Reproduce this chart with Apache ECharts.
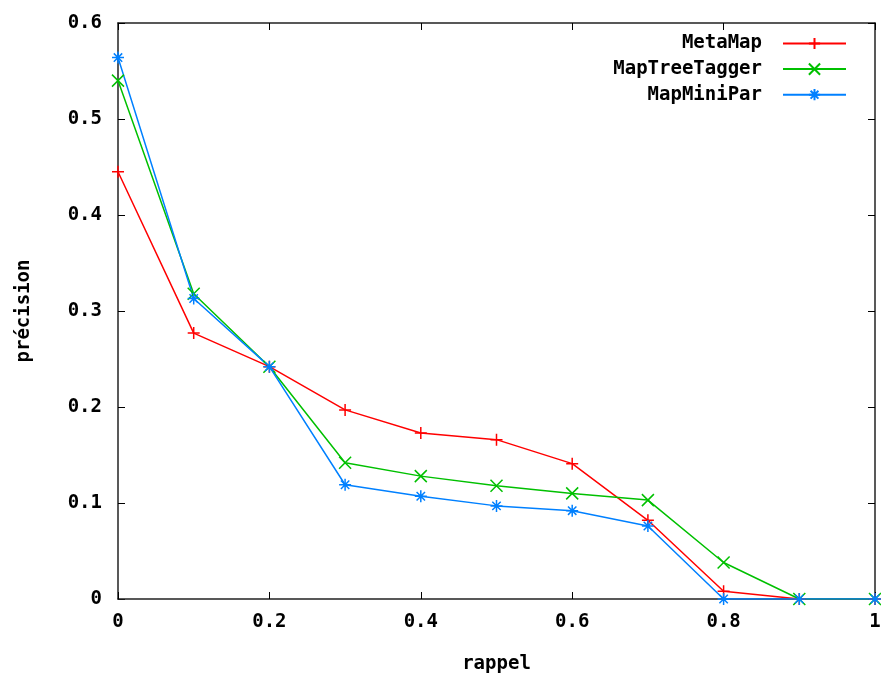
<!DOCTYPE html>
<html>
<head>
<meta charset="utf-8">
<script src="https://cdn.jsdelivr.net/npm/echarts@6/dist/echarts.min.js"></script>
<style>
html,body{margin:0;padding:0;background:#fff;}
#chart{width:881px;height:675px;}
</style>
</head>
<body>
<div id="chart"></div>
<script>
var rappel = [0, 0.1, 0.2, 0.3, 0.4, 0.5, 0.6, 0.7, 0.8, 0.9, 1.0];
var metaMap = [0.445, 0.277, 0.242, 0.197, 0.173, 0.166, 0.141, 0.082, 0.008, 0, 0];
var mapTreeTagger = [0.540, 0.318, 0.242, 0.142, 0.128, 0.118, 0.110, 0.103, 0.038, 0, 0];
var mapMiniPar = [0.564, 0.313, 0.242, 0.119, 0.107, 0.097, 0.092, 0.076, 0, 0, 0];
var seriesNames = ['MetaMap', 'MapTreeTagger', 'MapMiniPar'];
var xTicks = [0, 0.2, 0.4, 0.6, 0.8, 1];
var yTicks = [0, 0.1, 0.2, 0.3, 0.4, 0.5, 0.6];

function pairs(ys) { return rappel.map(function (x, i) { return [x, ys[i]]; }); }

var FONT = 'DejaVu Sans Mono';
var FS = 19;
var plusPath = 'path://M0,5L10,5M5,0L5,10';
var crossPath = 'path://M0,0L10,10M10,0L0,10';
var starPath = 'path://M0,5L10,5M5,0L5,10M1.5,1.5L8.5,8.5M8.5,1.5L1.5,8.5';
var colors = ['#ff0000', '#00c000', '#0080ff'];
var symbols = [plusPath, crossPath, starPath];
var datas = [metaMap, mapTreeTagger, mapMiniPar];

var series = seriesNames.map(function (n, i) {
  return {
    name: n, type: 'line', data: pairs(datas[i]),
    symbol: symbols[i], symbolSize: 12,
    lineStyle: { color: colors[i], width: 1.5 },
    itemStyle: { color: colors[i], borderColor: colors[i], borderWidth: 1.5 },
    animation: false
  };
});

var legends = seriesNames.map(function (n, i) {
  return {
    data: [n], right: 34, top: 34 + i * 25.6, orient: 'vertical', align: 'right',
    itemWidth: 63, itemHeight: 14, itemGap: 0, padding: 0,
    textStyle: { fontFamily: FONT, fontWeight: 'bold', fontSize: FS, color: '#000', padding: [0, 16, 0, 0] },
    selectedMode: false
  };
});

var tickStyle = { show: true, inside: true, length: 7, lineStyle: { color: '#000', width: 1 } };
var lineStyle = { show: true, onZero: false, lineStyle: { color: '#222', width: 1.5 } };
var labelStyle = { fontFamily: FONT, fontWeight: 'bold', fontSize: FS, color: '#000' };

var option = {
  backgroundColor: '#fff',
  animation: false,
  grid: { left: 118, right: 6, top: 23, bottom: 76, containLabel: false, outerBoundsMode: 'none' },
  legend: legends,
  xAxis: [
    { type: 'value', min: 0, max: 1, interval: 0.2, position: 'bottom', z: 3,
      axisLine: lineStyle, axisTick: tickStyle, splitLine: { show: false },
      axisLabel: Object.assign({ margin: 14, formatter: function (v) { return xTicks.indexOf(+v.toFixed(1)) >= 0 ? String(+v.toFixed(1)) : ''; } }, labelStyle),
      name: 'rappel', nameLocation: 'middle', nameGap: 56,
      nameTextStyle: labelStyle },
    { type: 'value', min: 0, max: 1, interval: 0.2, position: 'top',
      axisLine: lineStyle, axisTick: tickStyle, axisLabel: { show: false }, splitLine: { show: false } }
  ],
  yAxis: [
    { type: 'value', min: 0, max: 0.6, interval: 0.1, position: 'left',
      axisLine: lineStyle, axisTick: tickStyle, splitLine: { show: false },
      axisLabel: Object.assign({ margin: 16, formatter: function (v) { return yTicks.indexOf(+v.toFixed(1)) >= 0 ? String(+v.toFixed(1)) : ''; } }, labelStyle),
      name: 'précision', nameLocation: 'middle', nameGap: 84, nameRotate: 90,
      nameTextStyle: labelStyle },
    { type: 'value', min: 0, max: 0.6, interval: 0.1, position: 'right',
      axisLine: lineStyle, axisTick: tickStyle, axisLabel: { show: false }, splitLine: { show: false } }
  ],
  series: series
};

var chart = echarts.init(document.getElementById('chart'), null, { renderer: 'canvas' });
chart.setOption(option);
</script>
</body>
</html>
